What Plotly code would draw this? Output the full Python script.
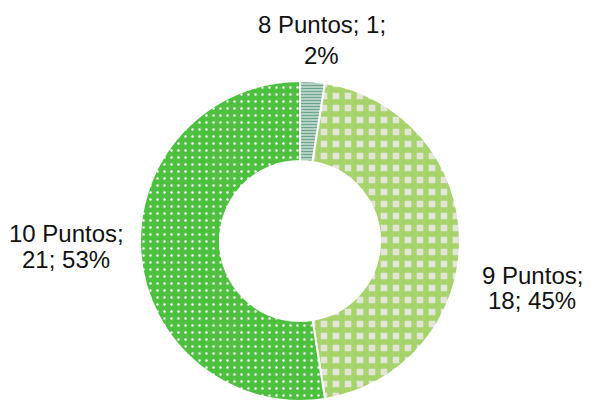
import plotly.graph_objects as go

categories = ["8 Puntos", "9 Puntos", "10 Puntos"]
values = [1, 18, 21]
percents = ["2%", "45%", "53%"]

fill_colors = ["#D4E6DC", "#E4E5D9", "#4DC13F"]
pattern_fg = ["#6FA58C", "#A6D46B", "#FFFFFF"]
pattern_shapes = ["-", "+", "."]
pattern_sizes = [3, 12, 7]
pattern_solidity = [0.55, 0.7, 0.1]

fig = go.Figure(go.Pie(
    labels=categories,
    values=values,
    hole=0.5,
    sort=False,
    direction="clockwise",
    rotation=0,
    textinfo="none",
    showlegend=False,
    marker=dict(
        colors=fill_colors,
        line=dict(color="white", width=2),
        pattern=dict(
            shape=pattern_shapes,
            fgcolor=pattern_fg,
            bgcolor=fill_colors,
            size=pattern_sizes,
            solidity=pattern_solidity,
            fillmode="replace",
        ),
    ),
    domain=dict(x=[139 / 590, 461 / 590], y=[0.0, 320 / 401]),
))

# label lines: (text, x px, y px)
label_lines = [
    (f"{categories[0]}; {values[0]};", 322, 24.5),
    (percents[0], 322, 55.5),
    (f"{categories[1]};", 532, 275.5),
    (f"{values[1]}; {percents[1]}", 532, 300),
    (f"{categories[2]};", 66, 233.5),
    (f"{values[2]}; {percents[2]}", 66, 259.5),
]
for text, xp, yp in label_lines:
    fig.add_annotation(
        text=text, x=xp / 590, y=1 - yp / 401, xref="paper", yref="paper",
        xanchor="center", yanchor="middle", showarrow=False,
        font=dict(family="Liberation Sans, Arial", size=24, color="#111111"),
    )

fig.update_layout(
    width=590, height=401,
    margin=dict(l=0, r=0, t=0, b=0),
    paper_bgcolor="white", plot_bgcolor="white",
)
fig.write_html("out.html", config={"displayModeBar": False},
               post_script="document.body.style.margin='0';")
